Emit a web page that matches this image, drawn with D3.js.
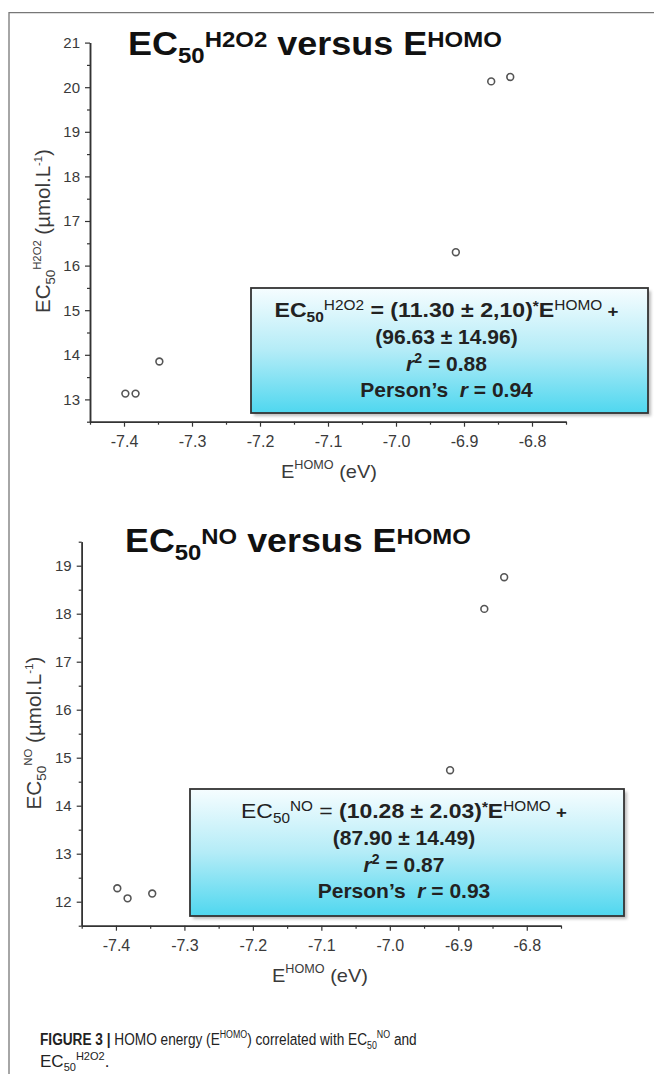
<!DOCTYPE html>
<html>
<head>
<meta charset="utf-8">
<script src="https://cdn.jsdelivr.net/npm/d3@7"></script>
<style>
  body { margin: 0; background: #fff; }
  svg text { font-family: "Liberation Sans", Arial, Helvetica, sans-serif; white-space: pre; }
</style>
</head>
<body>
<svg id="fig" width="654" height="1074"></svg>
<script>
// values
const ehomoH2O2 = [-7.398, -7.383, -7.348, -6.912, -6.860, -6.832]
const ec50H2O2 = [13.13, 13.13, 13.85, 16.30, 20.13, 20.23]
const ehomoNO = [-7.398, -7.383, -7.347, -6.912, -6.862, -6.833]
const ec50NO = [12.28, 12.07, 12.17, 14.74, 18.10, 18.76]

const xTicks = [-7.4, -7.3, -7.2, -7.1, -7.0, -6.9, -6.8]
const yTicksH2O2 = [13, 14, 15, 16, 17, 18, 19, 20, 21]
const yTicksNO = [12, 13, 14, 15, 16, 17, 18, 19]

const fitH2O2 = ['(11.30 ± 2,10)', '(96.63 ± 14.96)', '0.88', '0.94']
const fitNO = ['(10.28 ± 2.03)', '(87.90 ± 14.49)', '0.87', '0.93']

const svg = d3.select('#fig')

// gradient + shadow for the equation boxes
const defs = svg.append('defs')
const grad = defs.append('linearGradient').attr('id', 'cyan').attr('x1', 0).attr('y1', 0).attr('x2', 0).attr('y2', 1)
grad.append('stop').attr('offset', 0).attr('stop-color', '#f6fdff')
grad.append('stop').attr('offset', 0.5).attr('stop-color', '#b4ecf7')
grad.append('stop').attr('offset', 1).attr('stop-color', '#4fd7ef')
defs.append('filter').attr('id', 'blur').append('feGaussianBlur').attr('stdDeviation', 1.5)

// page frame
svg.append('path').attr('d', 'M9,1074V12.7H654').attr('fill', 'none').attr('stroke', '#777').attr('stroke-width', 1.3)

// text made of pieces with sub/superscripts; optional stretch to a width
function rich (parent, parts, o) {
  const t = parent.append('text').attr('fill', o.fill || '#222')
  let rise = 0
  parts.forEach(p => {
    const r = p.rise || 0
    t.append('tspan')
      .attr('dy', r - rise)
      .style('font-size', p.size + 'px')
      .style('font-weight', p.bold ? 'bold' : 'normal')
      .style('font-style', p.italic ? 'italic' : 'normal')
      .text(p.t)
    rise = r
  })
  const w = t.node().getComputedTextLength()
  const s = o.width ? o.width / w : 1
  const left = o.anchor === 'middle' ? o.x - w * s / 2 : o.x
  t.attr('transform', `translate(${left},${o.y}) scale(${s},1)`)
  return t
}

const panels = [
  {
    xs: ehomoH2O2, ys: ec50H2O2, yTicks: yTicksH2O2, yDomain: [12.5, 21], fit: fitH2O2, sp: 'H2O2', boldLead: true,
    left: 90, right: 566, top: 42.6, bottom: 421.7,
    title: { x: 128, y: 55, w: 374 }, ylab: { x: 50, y: 231, w: 164 }, xlab: { x: 329, w: 96 },
    box: { x: 251, y: 288, w: 397, h: 125, line1: 344 }
  },
  {
    xs: ehomoNO, ys: ec50NO, yTicks: yTicksNO, yDomain: [11.5, 19.5], fit: fitNO, sp: 'NO', boldLead: false,
    left: 81.7, right: 561, top: 541.7, bottom: 925.7,
    title: { x: 125, y: 552, w: 346 }, ylab: { x: 41, y: 733, w: 153 }, xlab: { x: 320, w: 96 },
    box: { x: 190, y: 789, w: 434, h: 127, line1: 326 }
  }
]

panels.forEach(p => {
  const x = d3.scaleLinear().domain([-7.45, -6.75]).range([p.left, p.right])
  const y = d3.scaleLinear().domain(p.yDomain).range([p.bottom, p.top])
  const g = svg.append('g')

  const xMinor = d3.range(-7.45, -6.74, 0.1).map(v => +v.toFixed(2))
  const yMinor = d3.range(p.yDomain[0], p.yDomain[1] + 0.01, 1)

  const gx = g.append('g').attr('transform', `translate(0,${p.bottom})`)
    .call(d3.axisBottom(x).tickValues(xTicks).tickFormat(d => d.toFixed(1)).tickSize(5).tickSizeOuter(0).tickPadding(8.6))
  g.append('g').attr('transform', `translate(0,${p.bottom})`)
    .call(d3.axisBottom(x).tickValues(xMinor).tickFormat('').tickSize(3).tickSizeOuter(0))
  const gy = g.append('g').attr('transform', `translate(${p.left},0)`)
    .call(d3.axisLeft(y).tickValues(p.yTicks).tickSize(5).tickSizeOuter(0).tickPadding(5))
  g.append('g').attr('transform', `translate(${p.left},0)`)
    .call(d3.axisLeft(y).tickValues(yMinor).tickFormat('').tickSize(3).tickSizeOuter(0))

  g.selectAll('.domain').attr('stroke', '#333').attr('stroke-width', 1.5)
  g.selectAll('.tick line').attr('stroke', '#333').attr('stroke-width', 1.2)
  gx.selectAll('text').attr('fill', '#3a3a3a').style('font-size', '16px')
  gy.selectAll('text').attr('fill', '#3a3a3a').style('font-size', '15px')

  // title
  rich(g, [
    { t: 'EC', size: 33, bold: true },
    { t: '50', size: 22, bold: true, rise: 8 },
    { t: p.sp, size: 22, bold: true, rise: -8 },
    { t: ' versus E', size: 33, bold: true },
    { t: 'HOMO', size: 22, bold: true, rise: -8 }
  ], { x: p.title.x, y: p.title.y, width: p.title.w, fill: '#111' })

  // y label (rotated)
  const yl = g.append('g').attr('transform', `translate(${p.ylab.x},${p.ylab.y}) rotate(-90)`)
  rich(yl, [
    { t: 'EC', size: 20 },
    { t: '50', size: 13, rise: 5 },
    { t: p.sp, size: 11, rise: -9 },
    { t: ' (µmol.L', size: 20 },
    { t: '-1', size: 11, rise: -8 },
    { t: ')', size: 20 }
  ], { x: 0, y: 0, anchor: 'middle', width: p.ylab.w, fill: '#3a3a3a' })

  // x label
  rich(g, [
    { t: 'E', size: 19 },
    { t: 'HOMO', size: 12, rise: -9 },
    { t: ' (eV)', size: 19 }
  ], { x: p.xlab.x, y: p.bottom + 56, anchor: 'middle', width: p.xlab.w, fill: '#3a3a3a' })

  // points
  g.selectAll('circle.pt').data(p.xs.map((v, i) => [v, p.ys[i]])).enter()
    .append('circle').attr('class', 'pt')
    .attr('cx', d => x(d[0])).attr('cy', d => y(d[1])).attr('r', 3.4)
    .attr('fill', '#fff').attr('stroke', '#555').attr('stroke-width', 1.6)

  // equation box
  const b = p.box
  g.append('rect').attr('x', b.x + 3).attr('y', b.y + 3).attr('width', b.w).attr('height', b.h)
    .attr('fill', '#888').attr('opacity', 0.55).attr('filter', 'url(#blur)')
  g.append('rect').attr('x', b.x).attr('y', b.y).attr('width', b.w).attr('height', b.h)
    .attr('fill', 'url(#cyan)').attr('stroke', '#333').attr('stroke-width', 1.8)

  const cx = b.x + b.w / 2 - 3
  rich(g, [
    { t: 'EC', size: 21, bold: p.boldLead },
    { t: '50', size: 14, bold: p.boldLead, rise: 5 },
    { t: p.sp, size: 14, rise: -7 },
    { t: ' = ', size: 21, bold: p.boldLead },
    { t: p.fit[0], size: 21, bold: true },
    { t: '*', size: 14, bold: true, rise: -6 },
    { t: 'E', size: 21, bold: true },
    { t: 'HOMO', size: 14, rise: -7 },
    { t: ' +', size: 17, bold: true }
  ], { x: cx, y: b.y + 29, anchor: 'middle', width: b.line1 })
  rich(g, [{ t: p.fit[1], size: 21, bold: true }], { x: cx, y: b.y + 56, anchor: 'middle' })
  rich(g, [
    { t: 'r', size: 21, bold: true, italic: true },
    { t: '2', size: 14, bold: true, rise: -8 },
    { t: ' = ' + p.fit[2], size: 21, bold: true }
  ], { x: cx, y: b.y + 83, anchor: 'middle' })
  rich(g, [
    { t: 'Person’s  ', size: 21, bold: true },
    { t: 'r', size: 21, bold: true, italic: true },
    { t: ' = ' + p.fit[3], size: 21, bold: true }
  ], { x: cx, y: b.y + 109, anchor: 'middle' })
})

// caption
rich(svg, [
  { t: 'FIGURE 3 |', size: 17, bold: true },
  { t: ' HOMO energy (E', size: 17 },
  { t: 'HOMO', size: 11, rise: -7 },
  { t: ') correlated with EC', size: 17 },
  { t: '50', size: 11, rise: 4 },
  { t: 'NO', size: 11, rise: -7 },
  { t: ' and', size: 17 }
], { x: 40, y: 1045, width: 377, fill: '#222' })
rich(svg, [
  { t: 'EC', size: 17 },
  { t: '50', size: 11, rise: 4 },
  { t: 'H2O2', size: 11, rise: -7 },
  { t: '.', size: 17 }
], { x: 40, y: 1067, fill: '#222' })
</script>
</body>
</html>
